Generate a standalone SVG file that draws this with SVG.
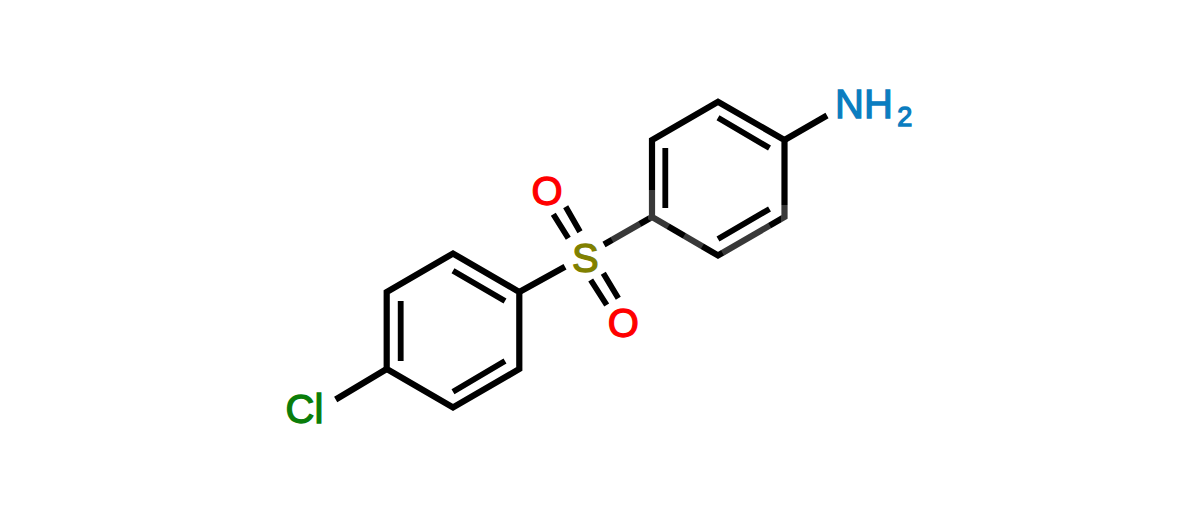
<svg xmlns="http://www.w3.org/2000/svg" width="1200" height="512" viewBox="0 0 1200 512">
<style>
.b{fill:none;stroke:#000;stroke-width:6.200;stroke-linejoin:miter;stroke-linecap:butt}
.i{fill:none;stroke:#000;stroke-width:5.800}
.w{fill:none;stroke:#fff;stroke-opacity:.22;stroke-width:8}
text{font-family:"Liberation Sans",Arial,sans-serif;font-size:40px;stroke-width:1.300}
</style>
<rect width="1200" height="512" fill="#fff"/>
<g id="connectors">
<path class="b" d="M652 217V140L718 101.800L784.500 140V217L718 255.500Z"/>
<path class="i" d="M718 117.700L769.500 148M769.500 209L718 239M665.300 148V208"/>
<path class="b" d="M386.700 369V292L453 253.500L519.300 292V369L453 407.500Z"/>
<path class="i" d="M453 270.700L505 301M505 361L453 391.700M400.700 301V361"/>
<path class="b" d="M784.500 140L827 115.500M652 217L604 244.500M565 266.700L519.300 292M386.700 369L335.700 399.500"/>
<path class="i" d="M553.300 214.300L568.300 238.300M565.700 206.700L580 231.700M590.700 280L606.700 305M603.300 273.300L618.300 298.300"/>
<path class="w" d="M652 190V217L668 227M612 240L640 224M684 236L702 247M722 252L770 226M785 222V205"/>
</g>
<g id="atom-o1"><text x="531.500" y="204.500" fill="#ff0000" stroke="#ff0000">O</text></g>
<g id="atom-o2"><text x="607.800" y="336.500" fill="#ff0000" stroke="#ff0000">O</text></g>
<g id="atom-s"><text x="572" y="271.500" fill="#808000" stroke="#808000">S</text></g>
<g id="atom-nh2"><text x="835" y="118" fill="#0a7dc0" stroke="#0a7dc0">NH<tspan font-size="27" dx="4.500" dy="8">2</tspan></text></g>
<g id="atom-cl"><text x="285.500" y="423" fill="#0a7d0a" stroke="#0a7d0a">Cl</text></g>
</svg>
